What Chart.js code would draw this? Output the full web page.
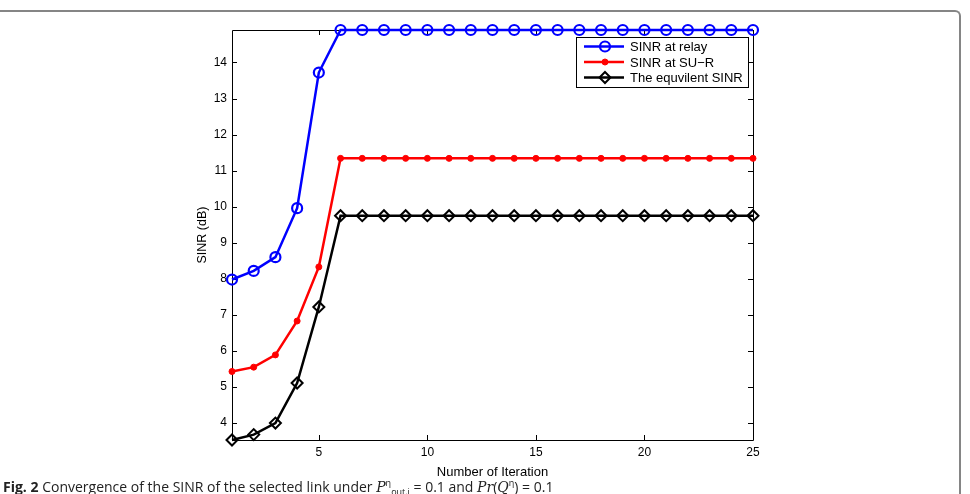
<!DOCTYPE html>
<html>
<head>
<meta charset="utf-8">
<script src="https://cdn.jsdelivr.net/npm/chart.js@4.4.1/dist/chart.umd.min.js"></script>
<style>
  html, body { margin: 0; padding: 0; background: #fff; }
  #wrap { position: relative; width: 970px; height: 494px; overflow: hidden; }
  #frame {
    position: absolute; left: -10px; top: 10px; width: 969px; height: 520px;
    border-top: 2px solid #858585; border-right: 2px solid #858585;
    border-top-right-radius: 6px;
  }
  #sinrChart { position: absolute; left: 0; top: 0; }
  #caption {
    position: absolute; left: 3px; top: 474px; white-space: nowrap;
    font-family: "Open Sans", sans-serif; font-size: 14px; line-height: 18px; color: #222;
  }
  #caption b { font-weight: 700; }
  .m { font-family: "DejaVu Serif", serif; font-style: italic; }
</style>
</head>
<body>
<div id="wrap">
  <div id="frame"></div>
  <canvas id="sinrChart" width="970" height="480"></canvas>
  <div id="caption"><b>Fig. 2</b> Convergence of the SINR of the selected link under <span class="m">P</span><sup style="font-size:9px">η</sup><sub style="font-size:9px">out,i</sub> = 0.1 and <span class="m">Pr</span>(<span class="m">Q</span><sup style="font-size:9px">η</sup>) = 0.1</div>
</div>
<script>
const iterations = [1, 2, 3, 4, 5, 6, 7, 8, 9, 10, 11, 12, 13, 14, 15, 16, 17, 18, 19, 20, 21, 22, 23, 24, 25];
const sinrRelay = [7.98, 8.22, 8.6, 9.96, 13.72, 14.9, 14.9, 14.9, 14.9, 14.9, 14.9, 14.9, 14.9, 14.9, 14.9, 14.9, 14.9, 14.9, 14.9, 14.9, 14.9, 14.9, 14.9, 14.9, 14.9];
const sinrSuR = [5.43, 5.55, 5.89, 6.83, 8.33, 11.34, 11.34, 11.34, 11.34, 11.34, 11.34, 11.34, 11.34, 11.34, 11.34, 11.34, 11.34, 11.34, 11.34, 11.34, 11.34, 11.34, 11.34, 11.34, 11.34];
const sinrEquiv = [3.53, 3.68, 4.0, 5.11, 7.22, 9.75, 9.75, 9.75, 9.75, 9.75, 9.75, 9.75, 9.75, 9.75, 9.75, 9.75, 9.75, 9.75, 9.75, 9.75, 9.75, 9.75, 9.75, 9.75, 9.75];
const seriesNames = ["SINR at relay", "SINR at SU\u2212R", "The equvilent SINR"];

const toPoints = (values) => iterations.map((it, i) => ({ x: it, y: values[i] }));

const fontFamily = "'Liberation Sans', Arial, sans-serif";

// axis box with inward ticks, like the matlab figure
const boxTicks = {
  id: "boxTicks",
  beforeDatasetsDraw(chart) {
    const { ctx, chartArea: a, scales } = chart;
    ctx.save();
    ctx.strokeStyle = "#000";
    ctx.lineWidth = 1;
    ctx.beginPath();
    ctx.rect(a.left + 0.5, a.top + 0.5, a.right - a.left, a.bottom - a.top);
    const len = 5;
    scales.x.ticks.forEach((t) => {
      const px = Math.round(scales.x.getPixelForValue(t.value)) + 0.5;
      ctx.moveTo(px, a.bottom); ctx.lineTo(px, a.bottom - len);
      ctx.moveTo(px, a.top); ctx.lineTo(px, a.top + len);
    });
    scales.y.ticks.forEach((t) => {
      const py = Math.round(scales.y.getPixelForValue(t.value)) + 0.5;
      ctx.moveTo(a.left, py); ctx.lineTo(a.left + len, py);
      ctx.moveTo(a.right, py); ctx.lineTo(a.right - len, py);
    });
    ctx.stroke();
    ctx.restore();
  },
};

function drawMarker(ctx, ds, x, y) {
  const r = ds.pointRadius;
  ctx.beginPath();
  if (ds.pointStyle === "rectRot") {
    ctx.moveTo(x, y - r); ctx.lineTo(x + r, y); ctx.lineTo(x, y + r); ctx.lineTo(x - r, y); ctx.closePath();
  } else {
    ctx.arc(x, y, r, 0, Math.PI * 2);
  }
  ctx.fillStyle = ds.pointBackgroundColor;
  ctx.fill();
  ctx.lineWidth = ds.pointBorderWidth;
  ctx.strokeStyle = ds.pointBorderColor;
  ctx.stroke();
}

// legend box drawn in the top right corner of the plot
const boxLegend = {
  id: "boxLegend",
  afterDraw(chart) {
    const { ctx, chartArea: a } = chart;
    const w = 172, h = 50;
    const x0 = a.right - 5 - w, y0 = a.top + 7;
    ctx.save();
    ctx.fillStyle = "#fff";
    ctx.fillRect(x0, y0, w, h);
    ctx.strokeStyle = "#000";
    ctx.lineWidth = 1;
    ctx.strokeRect(x0 + 0.5, y0 + 0.5, w, h);
    ctx.font = "13px " + fontFamily;
    ctx.textBaseline = "middle";
    chart.data.datasets.forEach((ds, i) => {
      const y = y0 + 9.5 + i * 15.5;
      ctx.beginPath();
      ctx.moveTo(x0 + 8, y); ctx.lineTo(x0 + 48, y);
      ctx.strokeStyle = ds.borderColor;
      ctx.lineWidth = ds.borderWidth;
      ctx.stroke();
      drawMarker(ctx, ds, x0 + 29, y);
      ctx.fillStyle = "#000";
      ctx.fillText(ds.label, x0 + 54, y + 1);
    });
    ctx.restore();
  },
};

const sinrChart = new Chart(document.querySelector("#sinrChart").getContext("2d"), {
  type: "line",
  data: {
    datasets: [
      {
        label: seriesNames[0],
        data: toPoints(sinrRelay),
        borderColor: "#0000ff",
        borderWidth: 2.5,
        pointStyle: "circle",
        pointRadius: 5,
        pointBorderWidth: 2.2,
        pointBorderColor: "#0000ff",
        pointBackgroundColor: "rgba(255,255,255,0)",
        clip: false,
      },
      {
        label: seriesNames[1],
        data: toPoints(sinrSuR),
        borderColor: "#ff0000",
        borderWidth: 2.5,
        pointStyle: "circle",
        pointRadius: 3,
        pointBorderWidth: 1,
        pointBorderColor: "#ff0000",
        pointBackgroundColor: "#ff0000",
        clip: false,
      },
      {
        label: seriesNames[2],
        data: toPoints(sinrEquiv),
        borderColor: "#000000",
        borderWidth: 2.5,
        pointStyle: "rectRot",
        pointRadius: 5.5,
        pointBorderWidth: 2,
        pointBorderColor: "#000000",
        pointBackgroundColor: "rgba(255,255,255,0)",
        clip: false,
      },
    ],
  },
  options: {
    responsive: false,
    animation: false,
    devicePixelRatio: 1,
    plugins: {
      legend: { display: false },
      tooltip: { enabled: false },
    },
    layout: {
      padding: { left: 180, top: 30, right: 217, bottom: 0 },
    },
    scales: {
      x: {
        type: "linear",
        min: 1,
        max: 25,
        afterFit: (s) => { s.height = 40; },
        grid: { display: false, drawTicks: false },
        border: { display: false },
        ticks: {
          stepSize: 5,
          includeBounds: false,
          maxRotation: 0,
          padding: 5,
          color: "#000",
          font: { family: fontFamily, size: 12 },
        },
        title: {
          display: true,
          text: "Number of Iteration",
          color: "#000",
          padding: { top: 0, bottom: 0 },
          font: { family: fontFamily, size: 13 },
        },
      },
      y: {
        type: "linear",
        min: 3.53,
        max: 14.9,
        afterFit: (s) => { s.width = 52; },
        grid: { display: false, drawTicks: false },
        border: { display: false },
        ticks: {
          stepSize: 1,
          includeBounds: false,
          padding: 5,
          color: "#000",
          font: { family: fontFamily, size: 12 },
        },
        title: {
          display: true,
          text: "SINR (dB)",
          color: "#000",
          padding: { top: 15, bottom: 0 },
          font: { family: fontFamily, size: 12.5 },
        },
      },
    },
  },
  plugins: [boxTicks, boxLegend],
});
</script>
</body>
</html>
